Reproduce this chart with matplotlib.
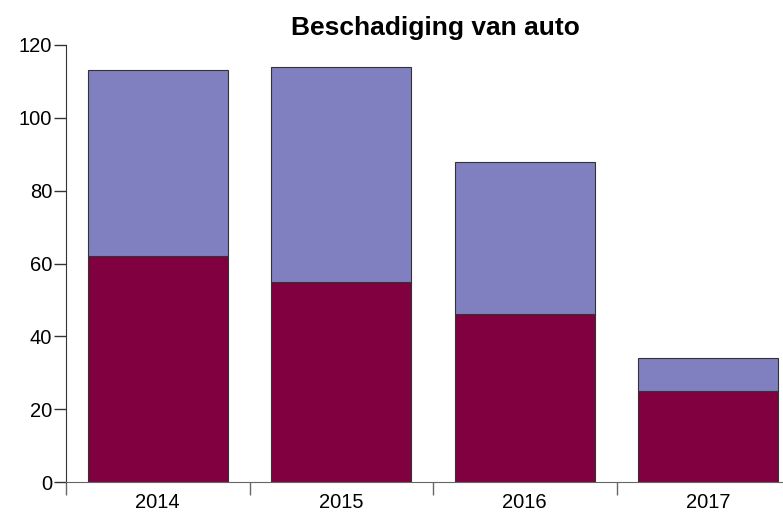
import matplotlib
matplotlib.use("Agg")
import matplotlib.pyplot as plt
import numpy as np

plt.rcParams['font.family'] = ['Liberation Sans', 'DejaVu Sans']

years = ["2014", "2015", "2016", "2017"]
bottom_vals = [62, 55, 46, 25]
totals = [113, 114, 88, 34]
top_vals = [t - b for t, b in zip(totals, bottom_vals)]

fig = plt.figure(figsize=(7.83, 5.17), dpi=100)
ax = fig.add_axes([66 / 783, 35 / 517, (800 - 66) / 783, (482 - 45) / 517])

x = np.arange(len(years))
ax.bar(x, bottom_vals, width=0.765, color="#800040", edgecolor="#333333", linewidth=0.8)
ax.bar(x, top_vals, width=0.765, bottom=bottom_vals, color="#8080C0", edgecolor="#333333", linewidth=0.8)

ax.set_xlim(-0.5, 3.5)
ax.set_ylim(0, 120)
ax.set_yticks([0, 20, 40, 60, 80, 100, 120])
ax.set_xticks(x)
ax.set_xticklabels(years)
ax.set_xticks([-0.5, 0.5, 1.5, 2.5], minor=True)
ax.tick_params(axis="x", which="major", length=0, labelsize=14.5, pad=8)
ax.tick_params(axis="x", which="minor", length=9, width=1, color="#666666", direction="out")
ax.tick_params(axis="y", length=9, width=1, labelsize=14.5, pad=1, color="#333333")

for s in ["top", "right"]:
    ax.spines[s].set_visible(False)
ax.spines["left"].set_color("#333333")
ax.spines["bottom"].set_color("#666666")

fig.text(435 / 783, 1 - 28 / 517, "Beschadiging van auto", ha="center", va="center",
         fontsize=19, fontweight="bold")

fig.savefig("out.png", dpi=100)
